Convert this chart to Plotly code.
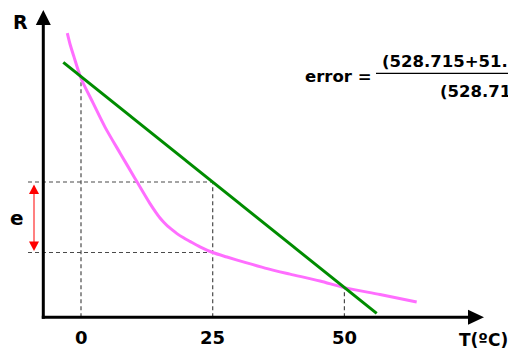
import numpy as np
import plotly.graph_objects as go

# ---------------- data ----------------
T_ticks = [0, 25, 50]
tick_labels = ["0", "25", "50"]

# thermistor-like curve (pink)
pink_T = [-2.60, -2.09, -1.33, 0.0, 2.33, 4.56, 7.40, 10.25, 13.10, 14.24,
          15.00, 15.76, 16.51, 17.27, 18.22, 19.46, 20.69, 22.59, 25.0, 27.71,
          31.13, 34.93, 39.67, 45.37, 50.0, 56.76, 63.72]
pink_R = [94.7, 91.1, 86.8, 79.7, 71.3, 63.4, 54.8, 46.3, 37.9, 34.9,
          33.1, 31.6, 30.3, 29.2, 27.9, 26.5, 25.3, 23.5, 21.6, 20.1,
          18.3, 16.4, 14.4, 12.1, 9.9, 7.6, 5.1]

# linear approximation (green)
green_T = [-3.36, 56.13]
green_R = [85.0, 1.3]

eq_label = "error ="
eq_num = "(528.715+51."
eq_den = "(528.71"

# ---------------- geometry helpers (layout only) ----------------
W, H = 508, 352
X0, SX = 81.0, 5.268    # pixel x of T=0, pixels per T unit
Y0, SY = 317.3, 3.0     # pixel y of R=0, pixels per R unit


def tx(px):
    return (px - X0) / SX


def ry(py):
    return (Y0 - py) / SY


xr = [tx(0), tx(W)]
yr = [ry(H), ry(0)]

FONT = "DejaVu Sans"
pink_c = "#ff6eff"
green_c = "#008c00"
dash_c = "#4a4a4a"

fig = go.Figure()

# reference values at the tick temperatures
g25 = float(np.interp(25, green_T, green_R))
p0 = float(np.interp(0, pink_T, pink_R))
p25 = float(np.interp(25, pink_T, pink_R))
p50 = float(np.interp(50, pink_T, pink_R))

shapes = []
dash = dict(color=dash_c, width=1.2, dash="4px,3px")
# vertical dashed guides
for t, top in zip(T_ticks, [p0, g25, p50]):
    shapes.append(dict(type="line", xref="x", yref="y", x0=t, x1=t, y0=0, y1=top,
                       line=dash, layer="below"))
# horizontal dashed guides
x_left = tx(28)
for lvl in [g25, p25]:
    shapes.append(dict(type="line", xref="x", yref="y", x0=x_left, x1=25, y0=lvl, y1=lvl,
                       line=dash, layer="below"))

# axes
ax_T = tx(43.3)
shapes.append(dict(type="line", xref="x", yref="y", x0=ax_T, x1=ax_T,
                   y0=ry(318.8), y1=ry(24), line=dict(color="black", width=3)))
shapes.append(dict(type="line", xref="x", yref="y", x0=tx(41.8), x1=tx(469),
                   y0=0, y1=0, line=dict(color="black", width=3)))
# axis arrowheads
yt, yb = ry(10), ry(25)
shapes.append(dict(type="path", xref="x", yref="y",
                   path=f"M {ax_T - 7.5/SX} {yb} L {ax_T + 7.5/SX} {yb} L {ax_T} {yt} Z",
                   fillcolor="black", line=dict(width=0)))
xb, xt = tx(468), tx(484)
shapes.append(dict(type="path", xref="x", yref="y",
                   path=f"M {xb} {7.5/SY} L {xb} {-7.5/SY} L {xt} 0 Z",
                   fillcolor="black", line=dict(width=0)))

# red double arrow marking the error e
ea_T = tx(34)
shapes.append(dict(type="line", xref="x", yref="y", x0=ea_T, x1=ea_T,
                   y0=g25 - 10/SY, y1=p25 + 10/SY, line=dict(color="#ff8080", width=2)))
hw, hh = 5/SX, 9.5/SY
top_tip, bot_tip = g25 - 2.5/SY, p25 + 1.5/SY
shapes.append(dict(type="path", xref="x", yref="y",
                   path=f"M {ea_T-hw} {top_tip-hh} L {ea_T+hw} {top_tip-hh} L {ea_T} {top_tip} Z",
                   fillcolor="#ff0000", line=dict(width=0)))
shapes.append(dict(type="path", xref="x", yref="y",
                   path=f"M {ea_T-hw} {bot_tip+hh} L {ea_T+hw} {bot_tip+hh} L {ea_T} {bot_tip} Z",
                   fillcolor="#ff0000", line=dict(width=0)))

# fraction bar
shapes.append(dict(type="line", xref="x", yref="y", x0=tx(376), x1=tx(512),
                   y0=ry(73.3), y1=ry(73.3), line=dict(color="black", width=1.3)))

# curves
fig.add_trace(go.Scatter(x=pink_T, y=pink_R, mode="lines",
                         line=dict(color=pink_c, width=3, shape="spline", smoothing=0.8),
                         hoverinfo="skip"))
fig.add_trace(go.Scatter(x=green_T, y=green_R, mode="lines",
                         line=dict(color=green_c, width=3), hoverinfo="skip"))

ann = []


def txt(s, xp, yp, size, xanchor="center"):
    ann.append(dict(text=s, x=tx(xp), y=ry(yp), xref="x", yref="y", showarrow=False,
                    xanchor=xanchor, yanchor="middle",
                    font=dict(family=FONT, size=size, color="black", weight="bold")))


for t, lab in zip(T_ticks, tick_labels):
    ann.append(dict(text=lab, x=t, y=ry(337.4), xref="x", yref="y", showarrow=False,
                    xanchor="center", yanchor="middle",
                    font=dict(family=FONT, size=18, color="black", weight="bold")))

txt("R", 20.3, 22, 19)
txt("e", 16.7, 217.5, 20)
txt("T(ºC)", 483, 340, 17)
txt(eq_label, 374, 76, 16.5, xanchor="right")
txt(eq_num, 380, 61, 16.5, xanchor="left")
txt(eq_den, 438, 91, 16.5, xanchor="left")

fig.update_layout(
    width=W, height=H, margin=dict(l=0, r=0, t=0, b=0),
    paper_bgcolor="white", plot_bgcolor="white", showlegend=False,
    xaxis=dict(range=xr, visible=False, fixedrange=True),
    yaxis=dict(range=yr, visible=False, fixedrange=True),
    shapes=shapes, annotations=ann,
)

fig.write_html("out.html", config=dict(displayModeBar=False))
